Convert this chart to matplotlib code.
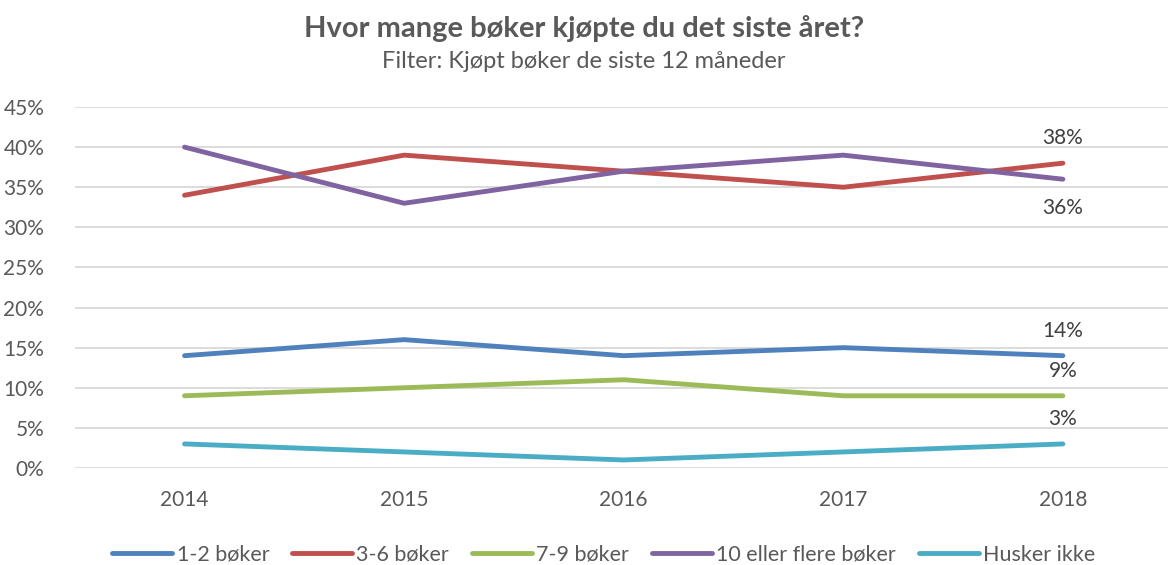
import matplotlib.pyplot as plt
from matplotlib.ticker import FuncFormatter

years = ["2014", "2015", "2016", "2017", "2018"]
series_names = ["1-2 bøker", "3-6 bøker", "7-9 bøker", "10 eller flere bøker", "Husker ikke"]
bok_1_2 = [14, 16, 14, 15, 14]
bok_3_6 = [34, 39, 37, 35, 38]
bok_7_9 = [9, 10, 11, 9, 9]
bok_10_pluss = [40, 33, 37, 39, 36]
husker_ikke = [3, 2, 1, 2, 3]
colors = ["#4F81BD", "#C0504D", "#9BBB59", "#8064A2", "#4BACC6"]

plt.rcParams['font.family'] = ['Lato', 'DejaVu Sans']
text_color = "#595959"

fig = plt.figure(figsize=(11.68, 5.65), dpi=100)
ax = fig.add_axes([0.064, 0.1717, 0.94, 0.6389])

all_series = [bok_1_2, bok_3_6, bok_7_9, bok_10_pluss, husker_ikke]
x = range(len(years))
for name, vals, c in zip(series_names, all_series, colors):
    ax.plot(x, vals, color=c, lw=3.5, solid_capstyle='round', label=name)

# labels on last point (above, except "10 eller flere" which sits below)
last = len(years) - 1
for vals, below in zip(all_series, [False, False, False, True, False]):
    off = -29 if below else 25
    ax.annotate(f"{vals[-1]}%", (last, vals[-1]), xytext=(0, off), textcoords='offset pixels',
                ha='center', va='center', fontsize=15, color="#404040")

ax.set_xlim(-0.5, 4.5)
ax.set_ylim(0, 45)
ax.set_yticks(range(0, 46, 5))
ax.yaxis.set_major_formatter(FuncFormatter(lambda v, p: f"{v:.0f}%"))
ax.set_xticks(list(x))
ax.set_xticklabels(years)
ax.grid(axis='y', color="#D9D9D9", lw=1.3)
ax.set_axisbelow(True)
for s in ax.spines.values():
    s.set_visible(False)
ax.tick_params(length=0, labelsize=15, colors=text_color)
ax.tick_params(axis='x', pad=16)
ax.tick_params(axis='y', pad=22)

fig.text(0.5, 0.949, "Hvor mange bøker kjøpte du det siste året?", ha='center', va='center',
         fontsize=21, fontweight='bold', color=text_color)
fig.text(0.5, 0.892, "Filter: Kjøpt bøker de siste 12 måneder", ha='center', va='center',
         fontsize=17, color=text_color)

leg = fig.legend(loc='center', bbox_to_anchor=(0.517, 0.018), ncol=5, frameon=False,
                 fontsize=15.5, handlelength=2.8, columnspacing=1.05, handletextpad=0.2)
for t in leg.get_texts():
    t.set_color(text_color)

fig.savefig("out.png", dpi=100)
